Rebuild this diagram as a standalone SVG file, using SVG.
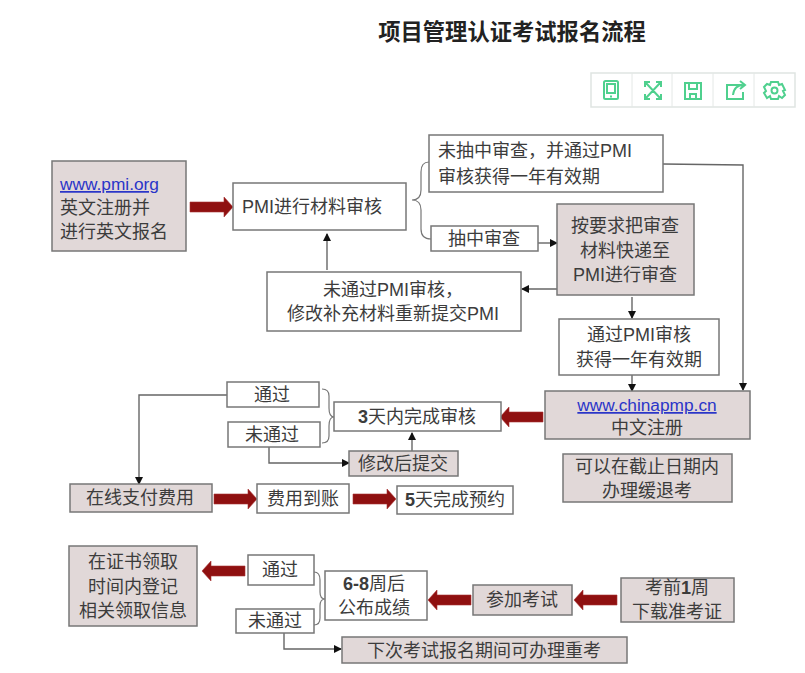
<svg xmlns="http://www.w3.org/2000/svg" width="805" height="673" viewBox="0 0 805 673">
<style>
text{font-family:"Liberation Sans","Noto Sans CJK SC",sans-serif;font-size:18px;fill:#3c3c3c;text-anchor:middle}
.t{font-size:22.3px;font-weight:bold;fill:#222}
.l{text-anchor:start}
.u{fill:#2a35c8;text-decoration:underline;font-size:17.300px}
.d{font-weight:bold}
.w{fill:#fff;stroke:#777;stroke-width:1.5}
.p{fill:#e1d8d8;stroke:#777;stroke-width:1.5}
.c{fill:none;stroke:#666;stroke-width:1.4}
.b{fill:none;stroke:#777;stroke-width:1.2}
.i{fill:none;stroke:#4fd08e;stroke-width:2}
</style>
<defs>
<marker id="a" markerWidth="8" markerHeight="8" refX="7" refY="4" orient="auto" markerUnits="userSpaceOnUse"><path d="M0 0L8 4L0 8Z" fill="#111"/></marker>
<path id="r" d="M0 -5H34V-10L43 0L34 10V5H0Z" fill="#8f1010" stroke="#a33" stroke-width=".6"/>
</defs>
<rect width="805" height="673" fill="#fff"/>
<text class="t" x="512" y="40">项目管理认证考试报名流程</text>
<g id="toolbar">
<rect x="591" y="73" width="204" height="34" fill="#fff" stroke="#dfe5e2" stroke-width="1.5"/>
<path d="M632 73V107M672 73V107M713 73V107M754 73V107" stroke="#e4e8e6" stroke-width="1"/>
<rect class="i" x="604" y="81" width="14" height="18" rx="1.500"/><path class="i" d="M607 84H615V93H607ZM610 96.500H612"/>
<path class="i" d="M646 83L660 98M660 83L646 98M645 87V82H650M656 82H661V87M645 94V99H650M656 99H661V94"/>
<path class="i" d="M685 83H701V99H685ZM689 83V89H697V83M690 99V94H696V99"/>
<path class="i" d="M742 85H727V99H743V92M733 95Q734 85 744 85M740 81L745 85L740 89"/>
<path class="i" d="M771 82H778L779 85L782 84L785 90L783 91L785 95L782 98L779 96L778 99H771L770 96L767 98L764 93L766 91L764 87L767 84L770 85Z"/><circle class="i" cx="774.500" cy="90.500" r="3"/>
</g>
<g id="connectors">
<path class="b" d="M429 162Q421 162 421 172V190Q421 200 412 200Q421 200 421 210V229Q421 239 431 239"/>
<path class="c" d="M663 164L743 165V390" marker-end="url(#a)"/>
<path class="c" d="M538 243H557" marker-end="url(#a)"/>
<path class="c" d="M557 289H522" marker-end="url(#a)"/>
<path class="c" d="M327 270V234" marker-end="url(#a)"/>
<path class="c" d="M632 297V318" marker-end="url(#a)"/>
<path class="c" d="M632 375V391" marker-end="url(#a)"/>
<path class="b" d="M322 389Q329 389 329 396V408Q329 417 334 417Q329 417 329 426V436Q329 443 322 443"/>
<path class="c" d="M227 395H139V484" marker-end="url(#a)"/>
<path class="c" d="M269 447V463H349" marker-end="url(#a)"/>
<path class="c" d="M412 451V433" marker-end="url(#a)"/>
<path class="b" d="M314 572Q320 572 320 580V592Q320 599 325 599Q320 599 320 606V618Q320 625 314 625"/>
<path class="c" d="M284 633V649H341" marker-end="url(#a)"/>
<use href="#r" x="190" y="207"/>
<use href="#r" x="214" y="499"/>
<use href="#r" x="353" y="499"/>
<use href="#r" transform="translate(543 417) scale(-1 1)"/>
<use href="#r" transform="translate(245 571) scale(-1 1)"/>
<use href="#r" transform="translate(471 600) scale(-1 1)"/>
<use href="#r" transform="translate(617 600) scale(-1 1)"/>
</g>
<g id="n1"><rect class="p" x="52" y="161" width="134" height="90"/><text class="l u" x="60" y="190">www.pmi.org</text><text class="l" x="60" y="214">英文注册并</text><text class="l" x="60" y="238">进行英文报名</text></g>
<g id="n2"><rect class="w" x="233" y="183" width="173" height="47"/><text class="l" x="242" y="213">PMI进行材料审核</text></g>
<g id="n3"><rect class="w" x="429" y="135" width="234" height="57"/><text class="l" x="438" y="157">未抽中审查，并通过PMI</text><text class="l" x="438" y="183">审核获得一年有效期</text></g>
<g id="n4"><rect class="w" x="431" y="226" width="107" height="25"/><text x="484" y="245">抽中审查</text></g>
<g id="n5"><rect class="p" x="557" y="204" width="137" height="91"/><text x="625" y="232">按要求把审查</text><text x="625" y="257">材料快递至</text><text x="625" y="281">PMI进行审查</text></g>
<g id="n6"><rect class="w" x="267" y="272" width="254" height="59"/><text x="393" y="296">未通过PMI审核，</text><text x="393" y="320">修改补充材料重新提交PMI</text></g>
<g id="n7"><rect class="w" x="559" y="319" width="160" height="56"/><text x="639" y="341">通过PMI审核</text><text x="639" y="366">获得一年有效期</text></g>
<g id="n8"><rect class="p" x="545" y="391" width="205" height="48"/><text class="u" x="647" y="411">www.chinapmp.cn</text><text x="647" y="434">中文注册</text></g>
<g id="n9"><rect class="p" x="563" y="454" width="169" height="48"/><text x="647" y="473">可以在截止日期内</text><text x="647" y="497">办理缓退考</text></g>
<g id="n10"><rect class="w" x="334" y="402" width="167" height="29"/><text x="417" y="423"><tspan class="d">3</tspan>天内完成审核</text></g>
<g id="n11"><rect class="w" x="227" y="382" width="92" height="25"/><text x="272" y="401">通过</text></g>
<g id="n12"><rect class="w" x="228" y="422" width="92" height="25"/><text x="272" y="441">未通过</text></g>
<g id="n13"><rect class="p" x="349" y="451" width="109" height="25"/><text x="403" y="470">修改后提交</text></g>
<g id="n14"><rect class="p" x="70" y="484" width="142" height="28"/><text x="140" y="504">在线支付费用</text></g>
<g id="n15"><rect class="w" x="257" y="484" width="92" height="29"/><text x="303" y="505">费用到账</text></g>
<g id="n16"><rect class="w" x="397" y="486" width="116" height="28"/><text x="455" y="506"><tspan class="d">5</tspan>天完成预约</text></g>
<g id="n17"><rect class="p" x="69" y="546" width="128" height="80"/><text x="133" y="568">在证书领取</text><text x="133" y="593">时间内登记</text><text x="133" y="617">相关领取信息</text></g>
<g id="n18"><rect class="w" x="248" y="555" width="66" height="30"/><text x="280" y="576">通过</text></g>
<g id="n19"><rect class="w" x="236" y="609" width="78" height="24"/><text x="275" y="627">未通过</text></g>
<g id="n20"><rect class="w" x="325" y="571" width="102" height="49"/><text x="374" y="590"><tspan class="d">6-8</tspan>周后</text><text x="374" y="614">公布成绩</text></g>
<g id="n21"><rect class="p" x="473" y="585" width="99" height="30"/><text x="522" y="606">参加考试</text></g>
<g id="n22"><rect class="p" x="621" y="578" width="113" height="44"/><text x="677" y="594">考前<tspan class="d">1</tspan>周</text><text x="677" y="618">下载准考证</text></g>
<g id="n23"><rect class="p" x="342" y="637" width="285" height="26"/><text x="484" y="657">下次考试报名期间可办理重考</text></g>
</svg>
